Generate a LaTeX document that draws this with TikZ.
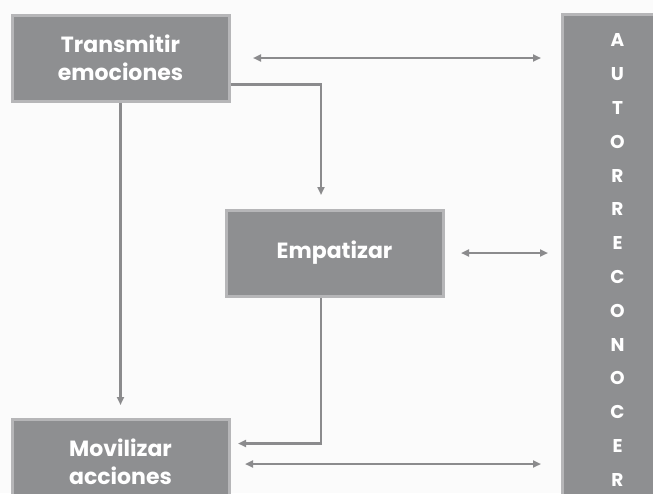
\documentclass[tikz,border=0pt]{standalone}
\usepackage{fontspec}
\setsansfont{Poppins}
\usetikzlibrary{arrows.meta}

\definecolor{relleno}{HTML}{8E8F91}
\definecolor{borde}{HTML}{B6B6B8}
\definecolor{linea}{HTML}{8B8B8D}
\definecolor{fondo}{HTML}{FBFBFB}

\begin{document}
\begin{tikzpicture}[x=1pt, y=-1pt,
	caja/.style={draw=borde, line width=3pt, fill=relleno, text=white, align=center,
		font=\sffamily\bfseries\fontsize{22}{28}\selectfont,
		minimum width=217pt, minimum height=86pt, anchor=north west, inner sep=0pt},
	flecha/.style={draw=linea, line width=2.4pt, -{Triangle[length=8pt,width=7pt]}},
	dflecha/.style={flecha, {Triangle[length=8pt,width=7pt]}-{Triangle[length=8pt,width=7pt]}}]

	\useasboundingbox (0,0) rectangle (653,493);
	\fill[fondo] (0,0) rectangle (653,493);
	\clip (0,0) rectangle (653,493);

	\node[caja] at (10.5, 13.5) (trans) {Transmitir\\emociones};
	\node[caja] at (224.5, 208.5) (emp) {Empatizar};
	\node[caja] at (10.5, 417.5) (movil) {Movilizar\\acciones};
	\node[caja, minimum width=111pt, minimum height=491pt,
		font=\sffamily\bfseries\fontsize{18.5}{33.8}\selectfont] at (560.5, 13) (auto)
		{A\\U\\T\\O\\R\\R\\E\\C\\O\\N\\O\\C\\E\\R};

	% flechas con autorreconocer
	\draw[dflecha, shorten <=22.5pt, shorten >=19.5pt] (trans) -- (trans -| auto.west);
	\draw[dflecha, shorten <=16.5pt, shorten >=12.5pt] (emp) -- (emp -| auto.west);
	\draw[dflecha, shorten <=14.5pt, shorten >=19.5pt] ([yshift=-2pt]movil.east) -- ([yshift=-2pt]movil.east -| auto.west);

	% flechas entre cajas
	\draw[flecha, shorten >=13.5pt] ([yshift=-26.5pt]trans.east) -| ([xshift=-13.5pt]emp.north);
	\draw[flecha, shorten >=12.5pt] (trans) -- (movil);
	\draw[flecha, shorten >=7.5pt] ([xshift=-13.5pt]emp.south) |- ([yshift=18.5pt]movil.east);

\end{tikzpicture}
\end{document}
